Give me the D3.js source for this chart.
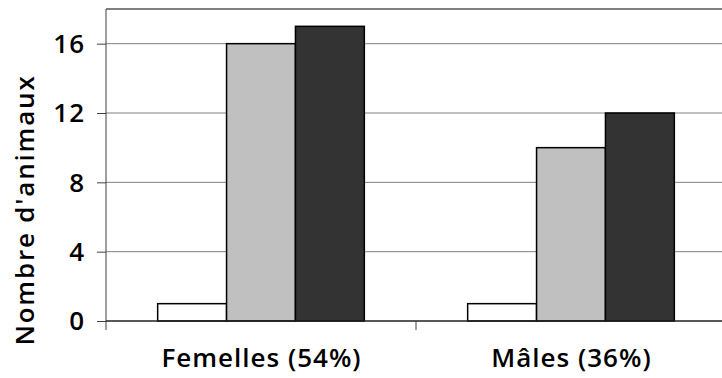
<!DOCTYPE html>
<html><head><meta charset="utf-8">
<script src="https://cdn.jsdelivr.net/npm/d3@7"></script>
<style>body{margin:0;background:#fff}svg{display:block}text{font-family:"Open Sans",sans-serif;font-weight:600;fill:#000}</style>
</head><body><svg id="c" width="722" height="378"></svg>
<script>
const categories = ["Femelles (54%)", "Mâles (36%)"];
const seriesNames = ["s1", "s2", "s3"];
const s1 = [1, 1];
const s2 = [16, 10];
const s3 = [17, 12];
const yTicks = [0, 4, 8, 12, 16];
const colors = ["#ffffff", "#c0c0c0", "#333333"];

const svg = d3.select("#c");
const L = 106, R = 726, T = 9, B = 321;
const x = d3.scaleBand().domain(categories).range([L, R]);
const xi = d3.scaleBand().domain(seriesNames).range([0, x.bandwidth()]).paddingOuter(0.75).paddingInner(0);
const y = d3.scaleLinear().domain([0, 18]).range([B, T]);

// gridlines
svg.append("g").selectAll("line").data(yTicks.filter(d => d > 0)).join("line")
  .attr("x1", L).attr("x2", R).attr("y1", d => y(d)).attr("y2", d => y(d))
  .attr("stroke", "#808080").attr("stroke-width", 1);
// top border
svg.append("line").attr("x1", L).attr("x2", R).attr("y1", y(18)).attr("y2", y(18))
  .attr("stroke", "#808080").attr("stroke-width", 2);

const data = categories.map((c, i) => ({c, vals: [s1[i], s2[i], s3[i]]}));
const g = svg.append("g");
data.forEach(d => {
  g.selectAll(null).data(d.vals).join("rect")
    .attr("x", (v, j) => x(d.c) + xi(seriesNames[j]))
    .attr("y", v => y(v))
    .attr("width", xi.bandwidth())
    .attr("height", v => y(0) - y(v))
    .attr("fill", (v, j) => colors[j])
    .attr("stroke", "#000").attr("stroke-width", 1.5);
});

// y axis
const ya = svg.append("g").attr("transform", `translate(${L},0)`)
  .call(d3.axisLeft(y).tickValues(yTicks).tickSize(9).tickPadding(12));
ya.select(".domain").attr("stroke", "#404040").attr("d", `M0,${T}V${B + 9}`);
ya.selectAll(".tick line").attr("stroke", "#404040");
ya.selectAll("text").style("font-size", "26px").style("letter-spacing", "1px").attr("dy", "0.34em").attr("fill", "#000");

// x axis
const xa = svg.append("g").attr("transform", `translate(0,${B})`)
  .call(d3.axisBottom(x).tickSize(0).tickPadding(29));
xa.select(".domain").attr("stroke", "#202020").attr("stroke-width", 1.5).attr("d", `M${L},0H${R}`);
xa.selectAll(".tick text").style("font-size", "26px").style("letter-spacing", "1px").attr("dx", "0.5px").attr("dy", "0.66em").attr("fill", "#000");
// category separator ticks
svg.append("g").selectAll("line").data(categories.slice(1)).join("line")
  .attr("x1", d => x(d)).attr("x2", d => x(d)).attr("y1", B).attr("y2", B + 9)
  .attr("stroke", "#404040");

svg.append("text").attr("transform", `translate(34,210) rotate(-90)`)
  .attr("text-anchor", "middle").style("font-size", "26px").style("letter-spacing", "1.8px").text("Nombre d'animaux");
</script></body></html>
